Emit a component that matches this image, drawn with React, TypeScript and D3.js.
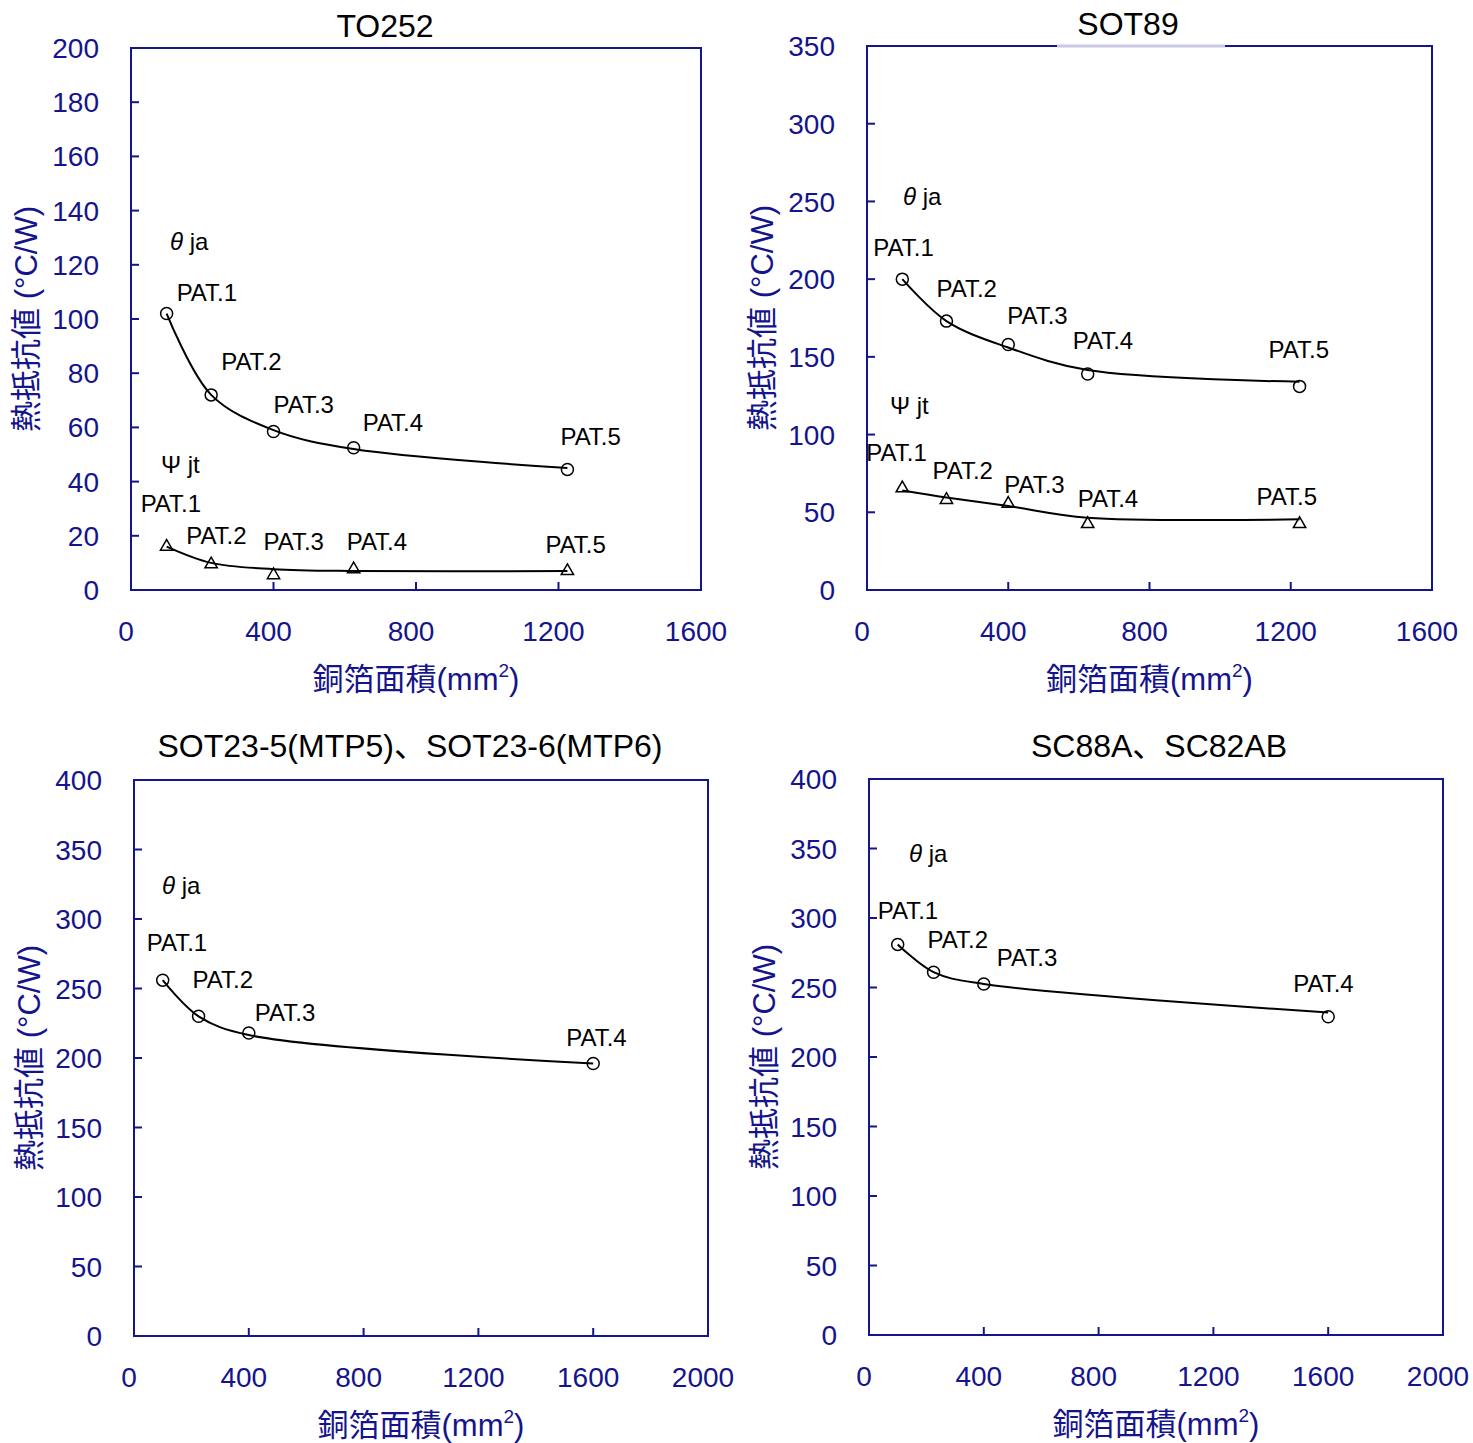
import * as React from 'react';
import * as d3 from 'd3';

const AXIS = '#14148c';
const FONT = '"Liberation Sans", Arial, "Noto Sans CJK JP", sans-serif';

// copper foil area (mm2) of the test patterns
const pat5 = ['PAT.1', 'PAT.2', 'PAT.3', 'PAT.4', 'PAT.5'];
const pat4 = ['PAT.1', 'PAT.2', 'PAT.3', 'PAT.4'];
const area5 = [100, 225, 400, 625, 1225];
const area4 = [100, 225, 400, 1600];

// TO252
const to252Ja = [102, 72, 58.5, 52.5, 44.5];
const to252JaFit = [102, 72, 59, 52, 45];
const to252Jt = [16, 9.5, 5.5, 7.7, 7];
const to252JtFit = [16, 10, 7.7, 7, 7];

// SOT89
const sot89Ja = [200, 173, 158, 139, 131];
const sot89JaFit = [200, 173, 156, 141.5, 134];
const sot89Jt = [65.5, 58, 55.5, 42.5, 42.5];
const sot89JtFit = [64, 59.5, 54, 46.5, 45.5];

// SOT23-5 / SOT23-6
const sot23Ja = [256, 230, 218, 196];
const sot23JaFit = [256, 230, 216.5, 196];

// SC88A / SC82AB
const sc88Ja = [281, 261, 252.5, 229];
const sc88JaFit = [281, 261, 252.5, 232];

// label offsets (px) from marker to label
const offTo252Ja = [[10, -13], [10, -25], [0, -18], [9, -17], [-7, -24]];
const offTo252Jt = [[-26, -35], [-25, -20], [-10, -25], [-7, -19], [-22, -18]];
const offSot89Ja = [[-29, -23], [-10, -24], [-1, -20], [-15, -25], [-31, -28]];
const offSot89Jt = [[-36, -27], [-14, -21], [-4, -11], [-10, -17], [-43, -19]];
const offSot23Ja = [[-16, -29], [-6, -28], [6, -12], [-27, -18]];
const offSc88Ja = [[-20, -25], [-6, -24], [13, -18], [-35, -25]];

type Series = {
  x: number[]; y: number[]; fit: number[]; labels: string[]; off: number[][];
  symbol: 'circle' | 'triangle'; name: 'ja' | 'jt'; nameAt: [number, number];
};

type PanelCfg = {
  title: string; titleAt: [number, number];
  left: number; top: number; right: number; bottom: number;
  xMax: number; xStep: number; yMax: number; yStep: number;
  series: Series[]; mask?: [number, number];
};

const panels: PanelCfg[] = [
  {
    title: 'TO252', titleAt: [385, 37], left: 131, top: 48, right: 701, bottom: 590,
    xMax: 1600, xStep: 400, yMax: 200, yStep: 20,
    series: [
      { x: area5, y: to252Ja, fit: to252JaFit, labels: pat5, off: offTo252Ja, symbol: 'circle', name: 'ja', nameAt: [170, 250] },
      { x: area5, y: to252Jt, fit: to252JtFit, labels: pat5, off: offTo252Jt, symbol: 'triangle', name: 'jt', nameAt: [161, 473] },
    ],
  },
  {
    title: 'SOT89', titleAt: [1128, 35], left: 867, top: 46, right: 1432, bottom: 590,
    xMax: 1600, xStep: 400, yMax: 350, yStep: 50, mask: [1057, 1225],
    series: [
      { x: area5, y: sot89Ja, fit: sot89JaFit, labels: pat5, off: offSot89Ja, symbol: 'circle', name: 'ja', nameAt: [903, 205] },
      { x: area5, y: sot89Jt, fit: sot89JtFit, labels: pat5, off: offSot89Jt, symbol: 'triangle', name: 'jt', nameAt: [890, 414] },
    ],
  },
  {
    title: 'SOT23-5(MTP5)、SOT23-6(MTP6)', titleAt: [410, 757], left: 134, top: 780, right: 708, bottom: 1336,
    xMax: 2000, xStep: 400, yMax: 400, yStep: 50,
    series: [
      { x: area4, y: sot23Ja, fit: sot23JaFit, labels: pat4, off: offSot23Ja, symbol: 'circle', name: 'ja', nameAt: [162, 894] },
    ],
  },
  {
    title: 'SC88A、SC82AB', titleAt: [1159, 757], left: 869, top: 779, right: 1443, bottom: 1335,
    xMax: 2000, xStep: 400, yMax: 400, yStep: 50,
    series: [
      { x: area4, y: sc88Ja, fit: sc88JaFit, labels: pat4, off: offSc88Ja, symbol: 'circle', name: 'ja', nameAt: [909, 862] },
    ],
  },
];

const tri = d3.symbol().type(d3.symbolTriangle).size(66)();

function Panel({ p }: { p: PanelCfg }) {
  const x = d3.scaleLinear().domain([0, p.xMax]).range([p.left, p.right]);
  const y = d3.scaleLinear().domain([0, p.yMax]).range([p.bottom, p.top]);
  const xTicks = d3.range(0, p.xMax + 1, p.xStep);
  const yTicks = d3.range(0, p.yMax + 1, p.yStep);
  const line = d3.line<number>().curve(d3.curveCatmullRom.alpha(0.5));
  const cx = (p.left + p.right) / 2;
  const cy = (p.top + p.bottom) / 2;

  return (
    <g fontFamily={FONT}>
      <text x={p.titleAt[0]} y={p.titleAt[1]} fontSize={32} textAnchor="middle" fill="#000">{p.title}</text>
      <rect x={p.left} y={p.top} width={p.right - p.left} height={p.bottom - p.top}
        fill="none" stroke={AXIS} strokeWidth={2} />
      {p.mask && (
        <line x1={p.mask[0]} x2={p.mask[1]} y1={p.top} y2={p.top} stroke="#c9c9e6" strokeWidth={3} />
      )}
      {yTicks.map(t => (
        <g key={'y' + t}>
          <line x1={p.left} x2={p.left + 8} y1={y(t)} y2={y(t)} stroke={AXIS} strokeWidth={2} />
          <text x={p.left - 32} y={y(t)} dy="0.36em" fontSize={28} textAnchor="end" fill={AXIS}>{t}</text>
        </g>
      ))}
      {xTicks.map(t => (
        <g key={'x' + t}>
          <line x1={x(t)} x2={x(t)} y1={p.bottom} y2={p.bottom - 8} stroke={AXIS} strokeWidth={2} />
          <text x={x(t) - 5} y={p.bottom + 51} fontSize={28} textAnchor="middle" fill={AXIS}>{t}</text>
        </g>
      ))}
      <text x={cx} y={p.bottom + 100} fontSize={31} textAnchor="middle" fill={AXIS}>
        銅箔面積(mm<tspan dy={-13} fontSize={19}>2</tspan><tspan dy={13}>)</tspan>
      </text>
      <text transform={`translate(${p.left - 105},${cy}) rotate(-90)`} fontSize={31}
        textAnchor="middle" dy="0.36em" fill={AXIS}>熱抵抗値 (°C/W)</text>
      {p.series.map((s, si) => {
        const pts = s.x.map((v, i) => [x(v), y(s.fit[i])] as [number, number]);
        return (
          <g key={si}>
            <path d={line(pts as any) || ''} fill="none" stroke="#000" strokeWidth={2} />
            {s.x.map((v, i) => (
              s.symbol === 'circle'
                ? <circle key={i} cx={x(v)} cy={y(s.y[i])} r={6} fill="none" stroke="#000" strokeWidth={1.5} />
                : <path key={i} d={tri || ''} transform={`translate(${x(v)},${y(s.y[i])})`}
                    fill="none" stroke="#000" strokeWidth={1.5} />
            ))}
            {s.labels.map((l, i) => (
              <text key={'l' + i} x={x(s.x[i]) + s.off[i][0]} y={y(s.y[i]) + s.off[i][1]}
                fontSize={24} fill="#000">{l}</text>
            ))}
            <text x={s.nameAt[0]} y={s.nameAt[1]} fontSize={24} fill="#000">
              {s.name === 'ja'
                ? <><tspan fontStyle="italic">θ</tspan> ja</>
                : <>Ψ jt</>}
            </text>
          </g>
        );
      })}
    </g>
  );
}

export default function App() {
  return (
    <svg width={1473} height={1443} style={{ position: 'absolute', left: 0, top: 0, background: '#fff' }}>
      <rect width={1473} height={1443} fill="#fff" />
      {panels.map((p, i) => <Panel key={i} p={p} />)}
    </svg>
  );
}
